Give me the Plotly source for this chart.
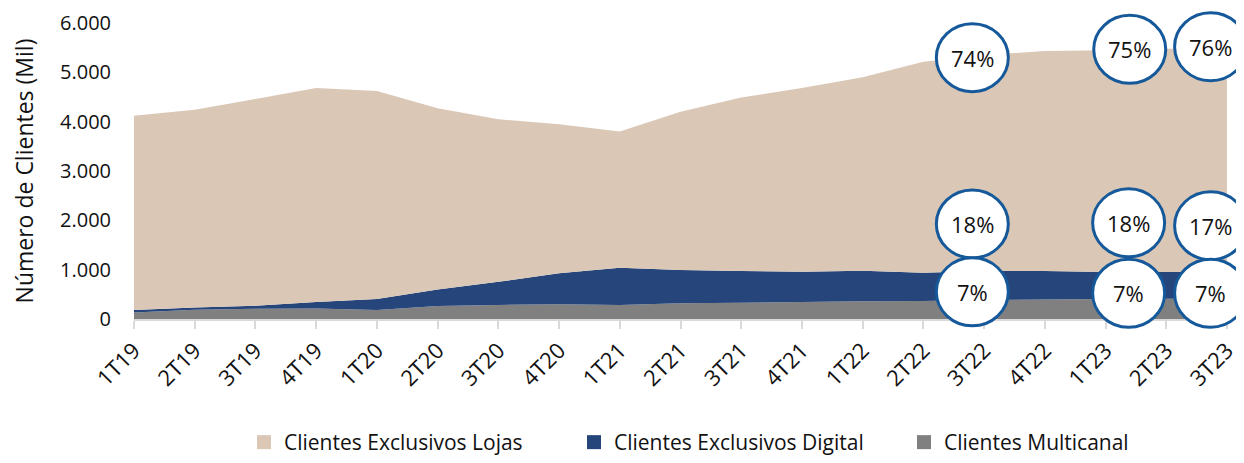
import plotly.graph_objects as go

quarters = ["1T19", "2T19", "3T19", "4T19", "1T20", "2T20", "3T20", "4T20", "1T21", "2T21",
            "3T21", "4T21", "1T22", "2T22", "3T22", "4T22", "1T23", "2T23", "3T23"]
multicanal = [130, 190, 210, 215, 180, 265, 285, 300, 285, 320, 330, 345, 360, 365, 385, 395, 405, 410, 420]
digital    = [50, 45, 60, 130, 225, 335, 470, 625, 755, 675, 645, 615, 620, 575, 590, 580, 550, 545, 540]
lojas      = [3940, 4005, 4190, 4335, 4215, 3670, 3295, 3025, 2760, 3205, 3515, 3720, 3920, 4275, 4375, 4455, 4495, 4525, 4530]

share_labels = ["74%", "75%", "76%", "18%", "18%", "17%", "7%", "7%", "7%"]
# anchor positions of the share bubbles, as fractions of the plot area
share_xfrac = [0.767, 0.911, 0.985, 0.767, 0.910, 0.985, 0.767, 0.910, 0.985]
share_yfrac = [0.883, 0.911, 0.920, 0.321, 0.325, 0.315, 0.092, 0.087, 0.087]

C_LOJAS = "#dac7b6"
C_DIG = "#26457a"
C_MULTI = "#808080"
FONT = "Open Sans"
TXT = "#111111"

# page body has an 8px margin, so the figure is drawn 8px smaller than the window
W, H = 1236, 455

fig = go.Figure()
for name, vals, col in [("Clientes Multicanal", multicanal, C_MULTI),
                        ("Clientes Exclusivos Digital", digital, C_DIG),
                        ("Clientes Exclusivos Lojas", lojas, C_LOJAS)]:
    fig.add_trace(go.Scatter(x=quarters, y=vals, name=name, stackgroup="one", mode="none",
                             fillcolor=col, line=dict(width=0), showlegend=False,
                             hoverinfo="x+y+name"))

for name, col in [("Clientes Exclusivos Lojas", C_LOJAS),
                  ("Clientes Exclusivos Digital", C_DIG),
                  ("Clientes Multicanal", C_MULTI)]:
    fig.add_trace(go.Scatter(x=[None], y=[None], name=name, mode="markers",
                             marker=dict(symbol="square", size=14, color=col), showlegend=True))

for lab, xf, yf in zip(share_labels, share_xfrac, share_yfrac):
    fig.add_shape(type="circle", xref="x domain", yref="y domain", xsizemode="pixel", ysizemode="pixel",
                  xanchor=xf, yanchor=yf, x0=-36, x1=36, y0=-34, y1=34,
                  line=dict(color="#15599a", width=3), fillcolor="white", layer="above")
    fig.add_annotation(xref="x domain", yref="y domain", x=xf, y=yf, text=lab, showarrow=False,
                       xanchor="center", yanchor="middle",
                       font=dict(family=FONT, size=22, color=TXT))

fig.update_layout(
    width=W, height=H,
    margin=dict(l=126, r=17, t=15, b=144, autoexpand=False),
    plot_bgcolor="white", paper_bgcolor="white",
    separators=",.",
    font=dict(family=FONT, size=20, color=TXT),
    showlegend=True,
    legend=dict(orientation="h", xref="container", yref="container",
                x=236 / W, xanchor="left", y=0, yanchor="bottom",
                font=dict(family=FONT, size=21, color=TXT), itemwidth=30,
                entrywidth=285, traceorder="normal", bgcolor="rgba(0,0,0,0)",
                borderwidth=0),
)
fig.update_xaxes(type="category", range=[0, 18], tickangle=-45, showgrid=False, automargin=False,
                 showline=True, linecolor="#d9d9d9", linewidth=2,
                 ticks="outside", ticklen=8, tickcolor="#d9d9d9", tickwidth=2,
                 tickfont=dict(family=FONT, size=22, color=TXT))
fig.update_yaxes(range=[0, 6000], dtick=1000, tickformat=",d", showgrid=False, zeroline=False,
                 showline=False, ticks="", ticklabelstandoff=22, automargin=False,
                 tickfont=dict(family=FONT, size=20, color=TXT),
                 title=dict(text="Número de Clientes (Mil)", font=dict(family=FONT, size=23, color=TXT),
                            standoff=24))

fig.write_html("out.html")
